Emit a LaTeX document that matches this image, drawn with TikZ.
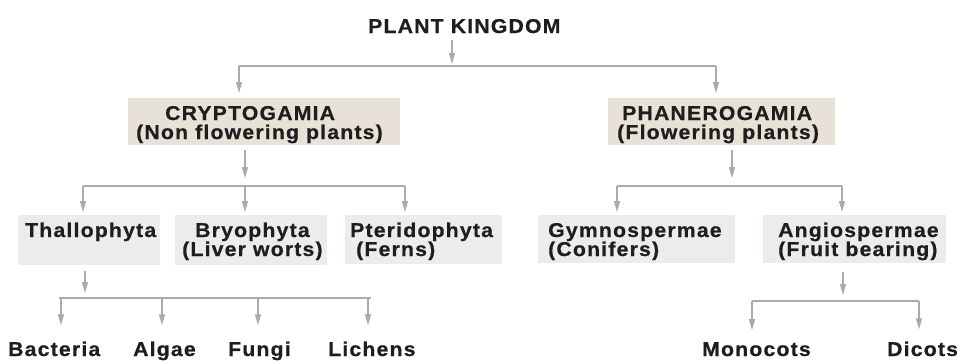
\documentclass[tikz,border=0pt]{standalone}
\usepackage{fontspec}
\setmainfont{Liberation Sans}[FakeStretch=1.06,LetterSpace=6,BoldFeatures={FakeBold=0.6}]
\usetikzlibrary{arrows.meta}
\definecolor{linegray}{HTML}{ABABAB}
\definecolor{boxA}{HTML}{E8E1D8}
\definecolor{boxB}{HTML}{EDECEA}
\definecolor{txt}{HTML}{1E1E1E}
\begin{document}
\begin{tikzpicture}[x=1pt,y=-1pt,
  lbl/.style={inner sep=0pt, font=\fontsize{20}{19}\selectfont\bfseries, text=txt, anchor=base west, align=left},
  boxa/.style={fill=boxA, inner sep=0pt, anchor=north west},
  boxb/.style={fill=boxB, inner sep=0pt, anchor=north west},
  conn/.style={draw=linegray, line width=1.2pt},
  arr/.style={conn, -{Triangle[width=6pt,length=11pt]}}]
\useasboundingbox[fill=white] (0,0) rectangle (957,360);

% boxes
\node[boxa, minimum width=272pt, minimum height=47pt] (cb) at (128,98) {};
\node[boxa, minimum width=227pt, minimum height=47pt] (pb) at (608,98) {};
\node[boxb, minimum width=142pt, minimum height=50pt] (tb) at (18,215) {};
\node[boxb, minimum width=152pt, minimum height=50pt] (bb) at (175,215) {};
\node[boxb, minimum width=157pt, minimum height=49pt] (ptb) at (345,215) {};
\node[boxb, minimum width=197pt, minimum height=48pt] (gb) at (538,215) {};
\node[boxb, minimum width=183pt, minimum height=48pt] (ab) at (763,215) {};

% labels (multi-line nodes: base = last line)
\node[lbl] (pk) at (368,33) {PLANT KINGDOM};
\node[lbl] (ct) at (136,139) {\hspace*{29pt}CRYPTOGAMIA\\(Non flowering plants)};
\node[lbl] (pt) at (617,139) {\hspace*{5pt}PHANEROGAMIA\\(Flowering plants)};
\node[lbl] (tt) at (25,237) {Thallophyta};
\node[lbl] (bt) at (182,256) {\hspace*{13pt}Bryophyta\\(Liver worts)};
\node[lbl] (ptt) at (350,256) {Pteridophyta\\\hspace*{6pt}(Ferns)};
\node[lbl] (gt) at (548,256) {Gymnospermae\\(Conifers)};
\node[lbl] (at) at (778,256) {Angiospermae\\(Fruit bearing)};
\node[lbl] (bac) at (8,356) {Bacteria};
\node[lbl] (alg) at (133,356) {Algae};
\node[lbl] (fun) at (228,356) {Fungi};
\node[lbl] (lic) at (328,356) {Lichens};
\node[lbl] (mon) at (702,356) {Monocots};
\node[lbl] (dic) at (887,356) {Dicots};

% junction coordinates
\coordinate (j1) at (452,66); \coordinate (j1l) at (239,66); \coordinate (j1r) at (716,66);
\coordinate (j2) at (245,186); \coordinate (j2l) at (83,186); \coordinate (j2r) at (405,186);
\coordinate (j3) at (732,186); \coordinate (j3l) at (617,186); \coordinate (j3r) at (842,186);
\coordinate (j4) at (85,298); \coordinate (j4l) at (61,298); \coordinate (j4a) at (162,298);
\coordinate (j4b) at (258,298); \coordinate (j4r) at (368,298);
\coordinate (j5) at (843,301); \coordinate (j5l) at (752,301); \coordinate (j5r) at (919,301);

% level 0
\draw[arr] ([yshift=-7pt]pk.south -| j1) -- ([yshift=2pt]j1);
\draw[conn] (j1l) -- (j1r);
\draw[arr] (j1l) -- ([yshift=5pt]cb.north -| j1l);
\draw[arr] (j1r) -- ([yshift=5pt]pb.north -| j1r);

% cryptogamia
\draw[arr] ([yshift=-5pt]cb.south -| j2) -- ([yshift=8pt]j2);
\draw[conn] (j2l) -- (j2r);
\draw[arr] (j2l) -- ([yshift=3pt]tb.north -| j2l);
\draw[arr] (j2) -- ([yshift=3pt]bb.north -| j2);
\draw[arr] (j2r) -- ([yshift=3pt]ptb.north -| j2r);

% phanerogamia
\draw[arr] ([yshift=-5pt]pb.south -| j3) -- ([yshift=8pt]j3);
\draw[conn] (j3l) -- (j3r);
\draw[arr] (j3l) -- ([yshift=3pt]gb.north -| j3l);
\draw[arr] (j3r) -- ([yshift=3pt]ab.north -| j3r);

% thallophyta
\draw[arr] ([yshift=-6pt]tb.south -| j4) -- ([yshift=5pt]j4);
\draw[conn] ([xshift=-2pt]j4l) -- ([xshift=3pt]j4r);
\draw[arr] (j4l) -- ([yshift=16pt]bac.north -| j4l);
\draw[arr] (j4a) -- ([yshift=16pt]alg.north -| j4a);
\draw[arr] (j4b) -- ([yshift=16pt]fun.north -| j4b);
\draw[arr] (j4r) -- ([yshift=16pt]lic.north -| j4r);

% angiospermae
\draw[arr] ([yshift=-9pt]ab.south -| j5) -- ([yshift=6pt]j5);
\draw[conn] (j5l) -- (j5r);
\draw[arr] (j5l) -- ([yshift=12pt]mon.north -| j5l);
\draw[arr] (j5r) -- ([yshift=12pt]dic.north -| j5r);
\end{tikzpicture}
\end{document}
